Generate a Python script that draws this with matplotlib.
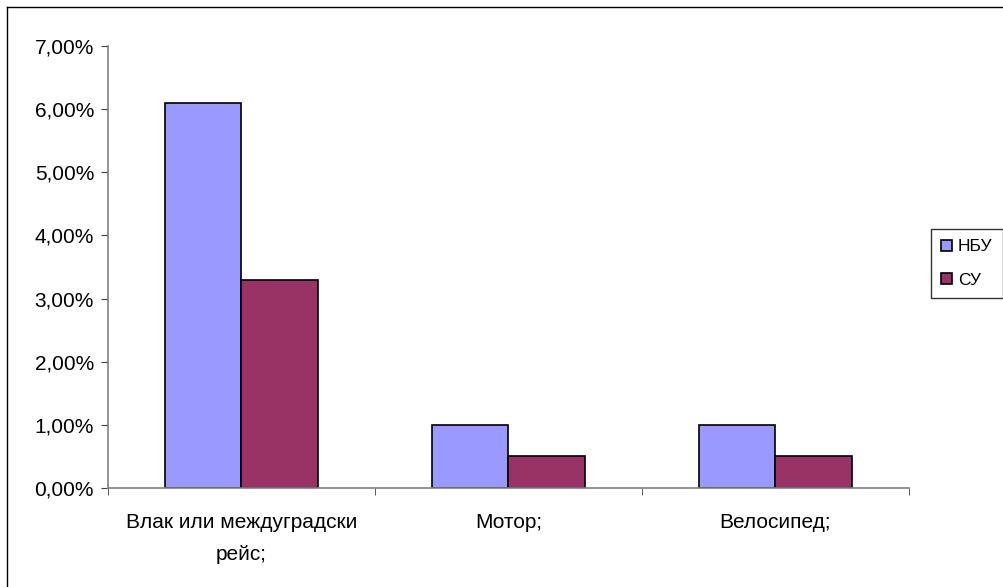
import numpy as np
import matplotlib
matplotlib.use("Agg")
import matplotlib.pyplot as plt
from matplotlib.lines import Line2D
from matplotlib.ticker import FuncFormatter, MultipleLocator

categories = ["Влак или междуградски\nрейс;", "Мотор;", "Велосипед;"]
nbu = [6.1, 1.0, 1.0]
su = [3.3, 0.5, 0.5]
series_names = ["НБУ", "СУ"]

plt.rcParams['font.family'] = ['Liberation Sans', 'DejaVu Sans']

fig = plt.figure(figsize=(10.04, 5.87), dpi=100)
ax = fig.add_axes([108/1004, 1-488/587, (909-108)/1004, (488-46)/587])

x = np.arange(len(categories))
w = 0.285
ax.bar(x - w/2, nbu, w, color='#9999FF', edgecolor='black', linewidth=1.2, label=series_names[0])
ax.bar(x + w/2, su, w, color='#993366', edgecolor='black', linewidth=1.2, label=series_names[1])

ax.set_xlim(-0.5, len(categories) - 0.5)
ax.set_ylim(0, 7)
ax.yaxis.set_major_locator(MultipleLocator(1))
ax.yaxis.set_major_formatter(FuncFormatter(lambda v, p: f"{v:.2f}%".replace('.', ',')))

ax.set_xticks(x)
ax.set_xticklabels(categories, fontsize=15, linespacing=1.85)
ax.set_xticks(np.arange(len(categories) + 1) - 0.5, minor=True)
ax.tick_params(axis='x', which='major', length=0, pad=18)
ax.tick_params(axis='x', which='minor', length=5, direction='out', color='#404040')
ax.tick_params(axis='y', length=5, direction='out', color='#404040', labelsize=15, pad=5)

for s in ['top', 'right']:
    ax.spines[s].set_visible(False)
for s in ['left', 'bottom']:
    ax.spines[s].set_color('#808080')
    ax.spines[s].set_linewidth(1.2)

leg = ax.legend(loc='upper left', bbox_to_anchor=(931/1004, 1-229/587),
                bbox_transform=fig.transFigure, fontsize=12.5, frameon=True,
                fancybox=False, shadow=False, handlelength=0.6, handleheight=0.6,
                handletextpad=0.35, borderpad=0.6, labelspacing=1.05, borderaxespad=0)
leg.get_frame().set_edgecolor('black')
leg.get_frame().set_linewidth(1.0)

# outer chart border (cut off at right and bottom)
fig.add_artist(Line2D([7/1004, 7/1004], [0, 1-7/587], color='black', linewidth=1.0,
                      transform=fig.transFigure))
fig.add_artist(Line2D([7/1004, 1], [1-7/587, 1-7/587], color='black', linewidth=1.0,
                      transform=fig.transFigure))

fig.savefig("out.png", dpi=100)
